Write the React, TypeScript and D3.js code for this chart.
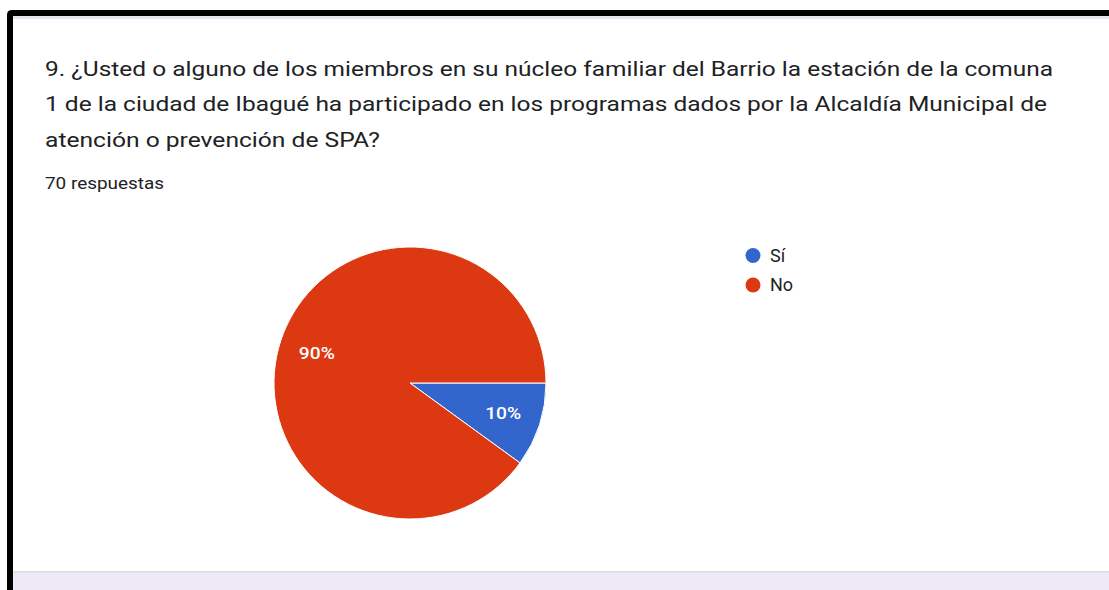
import { useEffect, useRef } from 'react';
import * as d3 from 'd3';

const categories = ['Sí', 'No'];
const values = [7, 63];
const percentLabels = ['10%', '90%'];
const colors = ['#3366cc', '#dc3912'];
const titleLines = [
  '9. ¿Usted o alguno de los miembros en su núcleo familiar del Barrio la estación de la comuna',
  '1 de la ciudad de Ibagué ha participado en los programas dados por la Alcaldía Municipal de',
  'atención o prevención de SPA?',
];
const titleWidths = [1008, 1002, 335];
const subtitle = '70 respuestas';

const W = 1109;
const H = 590;
const FONT = 'Roboto, Arial, sans-serif';

const App = () => {
  const svgRef = useRef<SVGSVGElement>(null);

  useEffect(() => {
    const svg = d3.select(svgRef.current);
    svg.selectAll('*').remove();

    // page background + card
    svg.append('rect').attr('width', W).attr('height', H).attr('fill', '#ffffff');
    svg.append('rect').attr('x', 13).attr('y', 572).attr('width', W - 13).attr('height', H - 572).attr('fill', '#ede9f7');
    svg.append('rect').attr('x', 13).attr('y', 16).attr('width', W - 13).attr('height', 3).attr('fill', '#e6e4ee');
    svg.append('rect').attr('x', 13).attr('y', 571).attr('width', W - 13).attr('height', 1.5).attr('fill', '#dcdae2');

    // black frame
    svg.append('path')
      .attr('d', `M10,${H} L10,15 Q10,13 12,13 L${W},13`)
      .attr('fill', 'none')
      .attr('stroke', '#000')
      .attr('stroke-width', 6);

    // title
    titleLines.forEach((t, i) => {
      svg.append('text')
        .attr('x', 45).attr('y', 76 + i * 35.3)
        .attr('font-family', FONT)
        .attr('font-size', 21)
        .attr('fill', '#202124')
        .attr('textLength', titleWidths[i])
        .attr('lengthAdjust', 'spacingAndGlyphs')
        .text(t);
    });

    svg.append('text')
      .attr('x', 45).attr('y', 189)
      .attr('font-family', FONT)
      .attr('font-size', 17)
      .attr('fill', '#202124')
      .attr('textLength', 119)
      .attr('lengthAdjust', 'spacingAndGlyphs')
      .text(subtitle);

    // pie
    const cx = 410, cy = 383, r = 136;
    const pie = d3.pie<number>()
      .sort(null)
      .startAngle(Math.PI / 2)
      .endAngle(Math.PI / 2 + 2 * Math.PI);
    const arcs = pie(values);
    const arc = d3.arc<d3.PieArcDatum<number>>().innerRadius(0).outerRadius(r);
    const labelArc = d3.arc<d3.PieArcDatum<number>>().innerRadius(r * 0.72).outerRadius(r * 0.72);

    const g = svg.append('g').attr('transform', `translate(${cx},${cy})`);
    g.selectAll('path.slice')
      .data(arcs)
      .join('path')
      .attr('class', 'slice')
      .attr('d', arc)
      .attr('fill', (_, i) => colors[i])
      .attr('stroke', '#ffffff')
      .attr('stroke-width', 1);

    g.selectAll('text.pct')
      .data(arcs)
      .join('text')
      .attr('class', 'pct')
      .attr('transform', d => `translate(${labelArc.centroid(d)})`)
      .attr('text-anchor', 'middle')
      .attr('dy', '0.35em')
      .attr('font-family', FONT)
      .attr('font-size', 17)
      .attr('font-weight', 500)
      .attr('fill', '#ffffff')
      .attr('textLength', 36)
      .attr('lengthAdjust', 'spacingAndGlyphs')
      .text((_, i) => percentLabels[i]);

    // legend
    const legend = svg.append('g').attr('transform', 'translate(753,255.5)');
    categories.forEach((c, i) => {
      const row = legend.append('g').attr('transform', `translate(0,${i * 29.5})`);
      row.append('circle').attr('r', 7.5).attr('fill', colors[i]);
      row.append('text')
        .attr('x', 17)
        .attr('dy', '0.36em')
        .attr('font-family', FONT)
        .attr('font-size', 18)
        .attr('fill', '#222222')
        .text(c);
    });
  }, []);

  return (
    <svg ref={svgRef} width={W} height={H} style={{ position: 'absolute', left: 0, top: 0 }}></svg>
  );
};

export default App;
